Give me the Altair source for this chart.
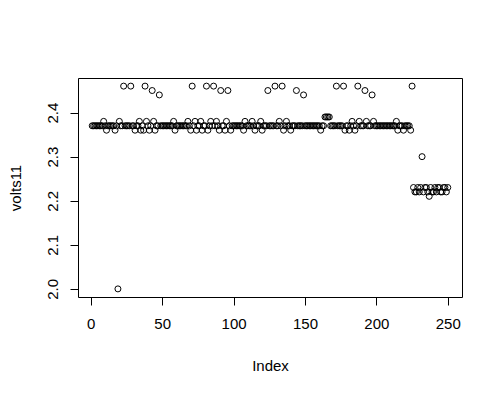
import altair as alt
import pandas as pd

volts11 = [
    2.37, 2.37, 2.37, 2.37, 2.37, 2.37, 2.37, 2.37, 2.38, 2.37,   # 1-10
    2.36, 2.37, 2.37, 2.37, 2.37, 2.37, 2.36, 2.37, 2.00, 2.38,   # 11-20
    2.37, 2.37, 2.46, 2.37, 2.37, 2.37, 2.37, 2.46, 2.37, 2.37,   # 21-30
    2.36, 2.37, 2.37, 2.38, 2.36, 2.37, 2.36, 2.46, 2.38, 2.37,   # 31-40
    2.36, 2.37, 2.45, 2.38, 2.36, 2.37, 2.37, 2.44, 2.37, 2.37,   # 41-50
    2.37, 2.37, 2.37, 2.37, 2.37, 2.37, 2.37, 2.38, 2.36, 2.37,   # 51-60
    2.37, 2.37, 2.37, 2.37, 2.37, 2.37, 2.37, 2.38, 2.37, 2.36,   # 61-70
    2.46, 2.37, 2.38, 2.36, 2.37, 2.37, 2.38, 2.36, 2.37, 2.37,   # 71-80
    2.46, 2.36, 2.37, 2.38, 2.37, 2.46, 2.37, 2.38, 2.37, 2.36,   # 81-90
    2.45, 2.37, 2.37, 2.36, 2.38, 2.45, 2.37, 2.36, 2.37, 2.37,   # 91-100
    2.37, 2.37, 2.37, 2.37, 2.37, 2.37, 2.36, 2.38, 2.37, 2.37,   # 101-110
    2.37, 2.37, 2.38, 2.37, 2.36, 2.37, 2.37, 2.37, 2.38, 2.36,   # 111-120
    2.37, 2.37, 2.37, 2.45, 2.37, 2.37, 2.37, 2.37, 2.46, 2.37,   # 121-130
    2.37, 2.38, 2.37, 2.46, 2.36, 2.37, 2.38, 2.37, 2.37, 2.36,   # 131-140
    2.37, 2.37, 2.37, 2.45, 2.37, 2.37, 2.37, 2.37, 2.44, 2.37,   # 141-150
    2.37, 2.37, 2.37, 2.37, 2.37, 2.37, 2.37, 2.37, 2.37, 2.37,   # 151-160
    2.36, 2.37, 2.37, 2.39, 2.39, 2.39, 2.39, 2.37, 2.37, 2.37,   # 161-170
    2.37, 2.46, 2.37, 2.37, 2.37, 2.37, 2.46, 2.36, 2.37, 2.37,   # 171-180
    2.36, 2.37, 2.38, 2.37, 2.36, 2.37, 2.46, 2.38, 2.37, 2.37,   # 181-190
    2.37, 2.45, 2.38, 2.37, 2.37, 2.37, 2.44, 2.38, 2.37, 2.37,   # 191-200
    2.37, 2.37, 2.37, 2.37, 2.37, 2.37, 2.37, 2.37, 2.37, 2.37,   # 201-210
    2.37, 2.37, 2.37, 2.38, 2.36, 2.37, 2.37, 2.37, 2.36, 2.37,   # 211-220
    2.37, 2.37, 2.37, 2.36, 2.46, 2.23, 2.22, 2.22, 2.23, 2.22,   # 221-230
    2.23, 2.30, 2.22, 2.23, 2.23, 2.22, 2.21, 2.23, 2.22, 2.22,   # 231-240
    2.23, 2.22, 2.23, 2.23, 2.22, 2.22, 2.23, 2.23, 2.22, 2.23,   # 241-250
]
index = list(range(1, len(volts11) + 1))
x_ticks = [0, 50, 100, 150, 200, 250]
y_ticks = [2.0, 2.1, 2.2, 2.3, 2.4]

df = pd.DataFrame({"Index": index, "volts11": volts11})

FONT = "Liberation Sans"
FS = 15

chart = (
    alt.Chart(df)
    .mark_point(shape="circle", filled=False, color="black", strokeWidth=1, size=36, opacity=1)
    .encode(
        x=alt.X(
            "Index:Q",
            scale=alt.Scale(domain=[-8.96, 259.96], nice=False, zero=False),
            axis=alt.Axis(
                values=x_ticks, format="d", grid=False, domain=False,
                tickSize=8, tickColor="black", labelPadding=11,
                labelFont=FONT, labelFontSize=FS, labelColor="black",
                title="Index", titleFont=FONT, titleFontSize=FS, titleFontWeight="normal",
                titleColor="black", titleX=192, titleY=73, titleBaseline="alphabetic",
                titleAlign="center",
            ),
        ),
        y=alt.Y(
            "volts11:Q",
            scale=alt.Scale(domain=[1.9816, 2.4784], nice=False, zero=False),
            axis=alt.Axis(
                values=y_ticks, format=".1f", grid=False, domain=False,
                tickSize=8, tickColor="black", labelPadding=13,
                labelAngle=270, labelAlign="center", labelBaseline="alphabetic",
                labelFont=FONT, labelFontSize=FS, labelColor="black",
                title="volts11", titleFont=FONT, titleFontSize=FS, titleFontWeight="normal",
                titleColor="black", titleAngle=270, titleX=-58, titleY=109.5,
                titleBaseline="alphabetic", titleAlign="center",
            ),
        ),
    )
    .properties(
        width=384, height=219, autosize="none",
        padding={"left": 78, "top": 78, "right": 40, "bottom": 98},
        background="white",
    )
    .configure_view(stroke="black", strokeWidth=1)
)

chart.save("out.html", embed_options={"renderer": "svg", "actions": False})
